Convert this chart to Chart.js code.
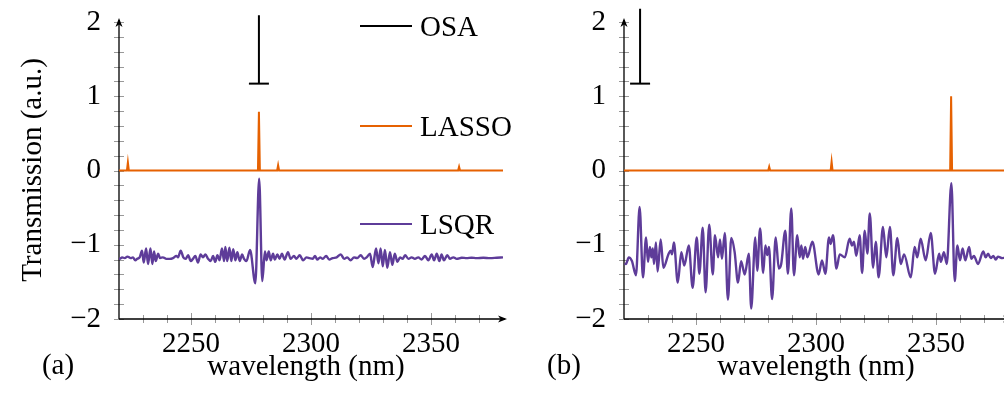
<!DOCTYPE html>
<html>
<head>
<meta charset="utf-8">
<script src="https://cdn.jsdelivr.net/npm/chart.js@4.4.0/dist/chart.umd.min.js"></script>
<style>
  body { margin: 0; background: #fff; }
  #wrap { position: relative; width: 1004px; height: 410px; overflow: hidden; }
  .panel { position: absolute; top: 0; width: 520px; height: 410px; }
</style>
</head>
<body>
<div id="wrap">
  <div class="panel" style="left:0"><canvas id="chartA" width="520" height="410"></canvas></div>
  <div class="panel" style="left:505px"><canvas id="chartB" width="520" height="410"></canvas></div>
</div>
<script>
// axes
const xLabels = [2250, 2300, 2350];
const yLabels = [-2, -1, 0, 1, 2];

// (a) : [wavelength, value]
const osaA = [[2278.3, 2.09], [2278.3, 1.17]];
const lassoA = [[2220, 0], [2223.3, 0], [2223.7, 0.11], [2224.1, 0], [2277.9, 0], [2278.3, 0.79], [2278.7, 0],
  [2285.9, 0], [2286.3, 0.07], [2286.7, 0], [2361.3, 0], [2361.7, 0.05], [2362.1, 0], [2380, 0]];
const lsqrA = [[2220.0, -1.18], [2220.3, -1.19], [2221.3, -1.17], [2222.4, -1.18], [2223.5, -1.16], [2224.9, -1.18],
  [2225.8, -1.17], [2226.8, -1.21], [2227.6, -1.19], [2228.6, -1.17], [2229.6, -1.08], [2230.3, -1.24], [2231.3, -1.05],
  [2232.1, -1.26], [2233.1, -1.05], [2233.9, -1.26], [2234.6, -1.09], [2235.3, -1.22], [2236.3, -1.12], [2237.1, -1.18],
  [2238.3, -1.17], [2239.7, -1.19], [2241.1, -1.19], [2242.5, -1.18], [2243.9, -1.15], [2244.6, -1.17], [2245.7, -1.08],
  [2246.8, -1.17], [2247.8, -1.19], [2248.8, -1.14], [2249.9, -1.22], [2250.8, -1.19], [2251.8, -1.15], [2252.9, -1.24],
  [2254.0, -1.13], [2255.0, -1.17], [2256.0, -1.13], [2257.1, -1.19], [2258.2, -1.22], [2259.2, -1.15], [2260.1, -1.23],
  [2261.0, -1.14], [2261.9, -1.21], [2262.9, -1.05], [2263.8, -1.22], [2264.3, -1.03], [2265.1, -1.22], [2266.0, -1.04],
  [2266.8, -1.22], [2267.6, -1.06], [2268.5, -1.21], [2269.3, -1.10], [2270.3, -1.22], [2271.3, -1.13], [2272.1, -1.19],
  [2273.1, -1.22], [2274.6, -1.07], [2276.8, -1.52], [2278.4, -0.11], [2279.7, -1.49], [2280.8, -1.09], [2281.5, -1.21],
  [2282.4, -1.09], [2283.2, -1.21], [2284.2, -1.12], [2284.9, -1.20], [2286.0, -1.13], [2286.9, -1.19], [2287.9, -1.12],
  [2289.0, -1.20], [2290.4, -1.10], [2291.5, -1.19], [2292.9, -1.15], [2293.9, -1.19], [2295.3, -1.14], [2296.7, -1.21],
  [2298.1, -1.17], [2299.4, -1.18], [2300.7, -1.19], [2301.7, -1.15], [2302.6, -1.20], [2303.8, -1.17], [2304.9, -1.19],
  [2306.3, -1.15], [2307.6, -1.20], [2309.0, -1.18], [2310.7, -1.17], [2312.4, -1.13], [2313.8, -1.19], [2315.1, -1.17],
  [2316.5, -1.21], [2317.9, -1.17], [2319.3, -1.18], [2320.7, -1.14], [2322.1, -1.19], [2323.2, -1.17], [2324.6, -1.12],
  [2325.7, -1.30], [2327.1, -1.05], [2328.1, -1.25], [2329.0, -1.05], [2329.9, -1.29], [2330.8, -1.07], [2331.8, -1.31],
  [2332.9, -1.10], [2333.9, -1.27], [2334.9, -1.12], [2336.0, -1.23], [2337.1, -1.17], [2338.2, -1.19], [2339.2, -1.14],
  [2340.6, -1.19], [2341.9, -1.17], [2343.3, -1.19], [2344.7, -1.17], [2346.1, -1.20], [2347.5, -1.15], [2348.9, -1.21],
  [2350.3, -1.13], [2351.3, -1.21], [2352.4, -1.12], [2353.5, -1.22], [2354.4, -1.13], [2355.4, -1.21], [2356.8, -1.14],
  [2357.9, -1.19], [2359.3, -1.17], [2360.7, -1.19], [2362.8, -1.175], [2364.9, -1.18], [2366.9, -1.175], [2369.0, -1.18],
  [2371.8, -1.175], [2374.6, -1.18], [2377.4, -1.175], [2380.0, -1.17]];

// (b)
const osaB = [[2226.7, 2.18], [2226.7, 1.17]];
const lassoB = [[2220, 0], [2280.1, 0], [2280.5, 0.05], [2280.9, 0], [2306.1, 0], [2306.5, 0.12], [2306.9, 0],
  [2355.9, 0], [2356.3, 1.0], [2356.7, 0], [2380, 0]];
const lsqrB = [[2220.3, -1.25], [2220.8, -1.26], [2222.0, -1.17], [2223.3, -1.22], [2225.0, -1.41], [2226.5, -0.49],
  [2227.9, -1.44], [2229.2, -0.90], [2230.0, -1.23], [2230.8, -1.03], [2231.4, -1.17], [2232.0, -1.05], [2232.5, -1.26],
  [2233.3, -0.97], [2234.0, -1.36], [2235.3, -0.93], [2236.4, -1.31], [2238.6, -1.12], [2239.5, -1.08], [2240.0, -1.13],
  [2240.8, -0.97], [2242.4, -1.51], [2243.9, -1.10], [2245.1, -1.28], [2247.0, -1.01], [2248.6, -1.58], [2250.3, -0.90],
  [2251.4, -1.39], [2252.8, -0.77], [2254.0, -1.64], [2255.5, -0.73], [2257.0, -1.40], [2257.9, -0.87], [2259.2, -1.17],
  [2260.0, -0.93], [2260.8, -1.19], [2262.0, -0.84], [2263.3, -1.74], [2264.7, -0.91], [2266.1, -1.10], [2267.5, -1.51],
  [2268.8, -1.22], [2270.3, -1.40], [2272.0, -1.12], [2273.0, -1.86], [2274.7, -0.90], [2275.5, -1.35], [2276.7, -0.78],
  [2278.0, -1.38], [2278.9, -1.01], [2279.7, -1.14], [2280.4, -1.03], [2281.7, -1.73], [2283.2, -0.90], [2284.5, -1.32],
  [2285.5, -1.26], [2287.2, -0.81], [2288.3, -1.39], [2289.7, -0.51], [2290.8, -1.41], [2292.2, -0.87], [2293.2, -1.17],
  [2293.9, -1.01], [2294.6, -1.19], [2295.5, -1.03], [2296.4, -1.17], [2298.5, -0.96], [2301.1, -1.40], [2302.5, -1.21],
  [2303.9, -1.39], [2305.4, -0.90], [2306.1, -0.99], [2307.1, -0.87], [2308.5, -1.32], [2309.9, -1.13], [2312.0, -1.17],
  [2314.0, -0.92], [2315.0, -1.01], [2315.8, -0.96], [2316.8, -1.15], [2318.2, -0.87], [2319.2, -1.38], [2320.3, -0.81],
  [2321.4, -1.12], [2322.4, -0.58], [2323.8, -1.31], [2324.9, -0.96], [2326.1, -1.44], [2327.9, -0.76], [2329.3, -1.17],
  [2330.8, -0.76], [2332.2, -1.41], [2333.9, -0.91], [2335.3, -1.26], [2336.7, -1.13], [2339.5, -1.44], [2341.1, -1.03],
  [2342.2, -1.17], [2343.6, -0.92], [2345.7, -1.21], [2347.8, -0.84], [2349.6, -1.39], [2351.3, -1.12], [2352.0, -1.23],
  [2353.3, -1.10], [2354.5, -1.26], [2356.4, -0.17], [2357.8, -1.49], [2358.9, -1.01], [2360.0, -1.21], [2361.1, -1.05],
  [2362.2, -1.21], [2363.8, -1.03], [2364.7, -1.19], [2365.8, -1.15], [2367.5, -1.26], [2369.7, -1.09], [2370.7, -1.17],
  [2371.7, -1.12], [2372.8, -1.18], [2373.9, -1.15], [2374.9, -1.20], [2375.8, -1.16], [2377.6, -1.18], [2380.0, -1.17]];

const serif = '"Liberation Serif", "Times New Roman", Times, Tinos, "Noto Serif", "DejaVu Serif", "Nimbus Roman", "FreeSerif", serif';
const FS = 29;
const toXY = (arr) => arr.map(p => ({ x: p[0], y: p[1] }));
const minus = (v) => String(v).replace('-', '\u2212');

// axes pgfplots-like : lignes avec fleche, ticks des deux cotes
const pgfAxes = {
  id: 'pgfAxes',
  beforeDatasetsDraw(chart) {
    const ctx = chart.ctx, xs = chart.scales.x, ys = chart.scales.y;
    const { left, right, top, bottom } = chart.chartArea;
    ctx.save();
    ctx.strokeStyle = 'rgba(0,0,0,0.4)';
    ctx.lineWidth = 1;
    for (let i = -10; i <= 10; i++) {
      const py = Math.round(ys.getPixelForValue(i / 5)) + 0.5;
      ctx.beginPath(); ctx.moveTo(left - 5, py); ctx.lineTo(left + 5, py); ctx.stroke();
    }
    for (let v = 2230; v <= 2370; v += 10) {
      const px = Math.round(xs.getPixelForValue(v)) + 0.5;
      const l = v % 50 === 0 ? 6 : 4;
      ctx.beginPath(); ctx.moveTo(px, bottom - l); ctx.lineTo(px, bottom + l); ctx.stroke();
    }
    ctx.strokeStyle = '#000';
    ctx.fillStyle = '#000';
    ctx.lineWidth = 1.3;
    ctx.beginPath();
    ctx.moveTo(left, bottom); ctx.lineTo(left, top - 2);
    ctx.moveTo(left, bottom); ctx.lineTo(right + 2, bottom);
    ctx.stroke();
    // fleche haut
    let tx = left, ty = top - 4;
    ctx.beginPath();
    ctx.moveTo(tx, ty); ctx.lineTo(tx - 3.5, ty + 9); ctx.lineTo(tx, ty + 6.5); ctx.lineTo(tx + 3.5, ty + 9);
    ctx.closePath(); ctx.fill();
    // fleche droite
    tx = right + 4; ty = bottom;
    ctx.beginPath();
    ctx.moveTo(tx, ty); ctx.lineTo(tx - 9, ty - 3.5); ctx.lineTo(tx - 6.5, ty); ctx.lineTo(tx - 9, ty + 3.5);
    ctx.closePath(); ctx.fill();
    ctx.restore();
  },
  afterDraw(chart, args, opts) {
    const ctx = chart.ctx;
    ctx.save();
    ctx.fillStyle = '#000';
    ctx.font = FS + 'px ' + serif;
    ctx.textAlign = 'center';
    ctx.textBaseline = 'alphabetic';
    ctx.fillText('wavelength (nm)', opts.titleX, 375);
    ctx.fillText(opts.panel, opts.panelX, 374);
    if (opts.yTitle) {
      ctx.save();
      ctx.translate(41, 170);
      ctx.rotate(-Math.PI / 2);
      ctx.fillText('Transmission (a.u.)', 0, 0);
      ctx.restore();
    }
    if (opts.legend) {
      const rows = [26, 126, 224];
      chart.data.datasets.forEach((ds, i) => {
        ctx.strokeStyle = ds.borderColor;
        ctx.lineWidth = 2;
        ctx.beginPath(); ctx.moveTo(360, rows[i]); ctx.lineTo(412, rows[i]); ctx.stroke();
        ctx.textAlign = 'left';
        ctx.fillText(ds.label, 420, rows[i] + 10);
      });
    }
    ctx.restore();
  }
};

const makeChart = (id, osa, lasso, lsqr, opts) => new Chart(document.getElementById(id), {
  type: 'line',
  data: {
    datasets: [
      { label: 'OSA', data: toXY(osa), borderColor: '#000000', borderWidth: 2, tension: 0, clip: false,
        pointRadius: [0, 10], pointStyle: 'line', pointBorderColor: '#000000', pointBorderWidth: 2 },
      { label: 'LASSO', data: toXY(lasso), borderColor: '#e66101', borderWidth: 2, tension: 0, pointRadius: 0 },
      { label: 'LSQR', data: toXY(lsqr), borderColor: '#5e3c99', borderWidth: 2.4, pointRadius: 0,
        cubicInterpolationMode: 'monotone' }
    ]
  },
  options: {
    responsive: false,
    animation: false,
    events: [],
    layout: { padding: { left: 0, top: 22, right: 17, bottom: 0 } },
    plugins: { legend: { display: false }, tooltip: { enabled: false }, pgfAxes: opts },
    scales: {
      x: {
        type: 'linear', min: 2220, max: 2380,
        afterBuildTicks: (s) => { s.ticks = xLabels.map(v => ({ value: v })); },
        afterFit: (s) => { s.height = 91; s.paddingLeft = 0; s.paddingRight = 0; },
        grid: { display: false, drawTicks: false }, border: { display: false },
        ticks: { font: { family: serif, size: FS }, color: '#000', padding: 8, maxRotation: 0, callback: v => minus(v) }
      },
      y: {
        type: 'linear', min: -2, max: 2,
        afterBuildTicks: (s) => { s.ticks = yLabels.map(v => ({ value: v })); },
        afterFit: (s) => { s.width = 119; s.paddingTop = 0; s.paddingBottom = 0; },
        grid: { display: false, drawTicks: false }, border: { display: false },
        ticks: { font: { family: serif, size: FS }, color: '#000', padding: 18, callback: v => minus(v) }
      }
    }
  },
  plugins: [pgfAxes]
});

makeChart('chartA', osaA, lassoA, lsqrA, { panel: '(a)', panelX: 58, titleX: 306, yTitle: true, legend: true });
makeChart('chartB', osaB, lassoB, lsqrB, { panel: '(b)', panelX: 59, titleX: 311, yTitle: false, legend: false });
</script>
</body>
</html>
